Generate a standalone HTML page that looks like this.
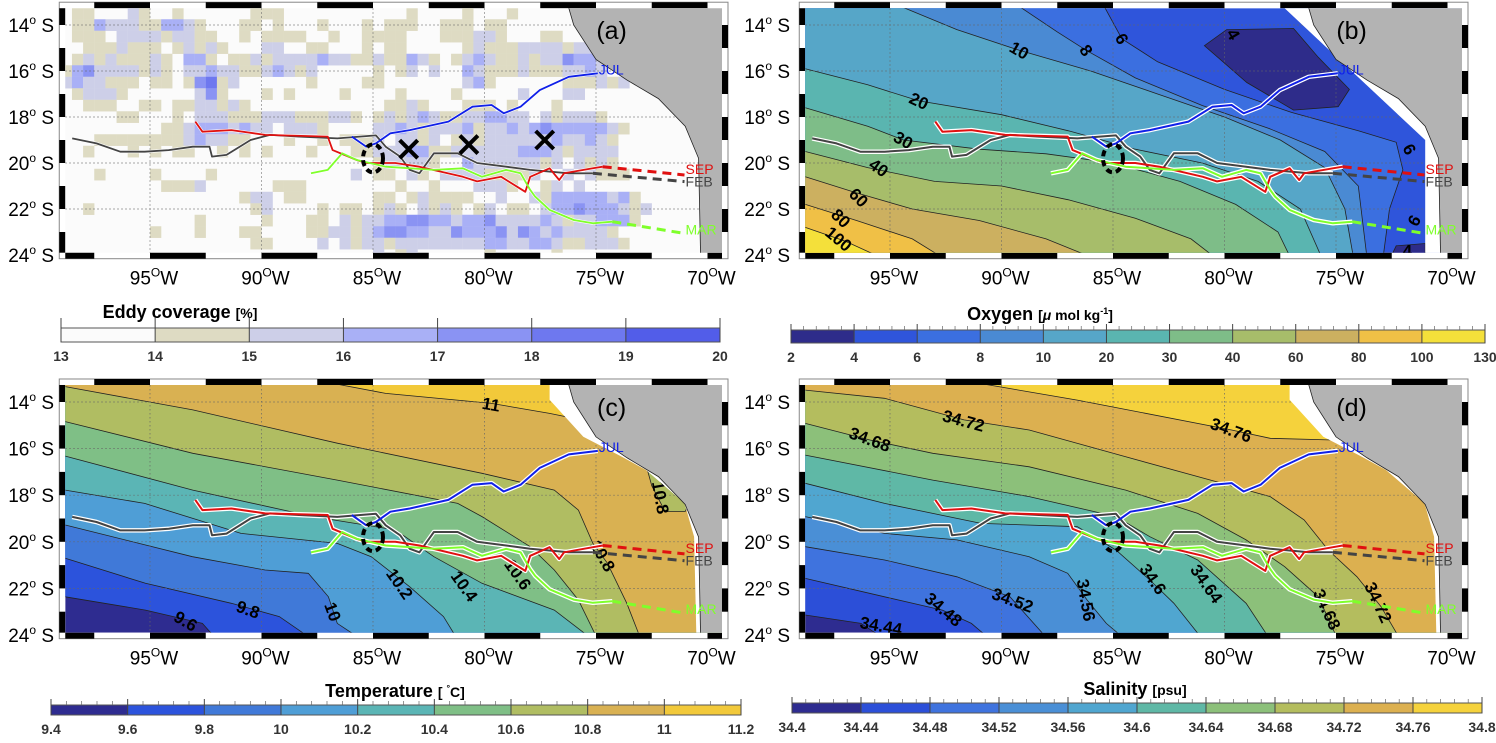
<!DOCTYPE html>
<html><head><meta charset="utf-8">
<style>
html,body{margin:0;padding:0;background:#fff;}
svg{display:block;font-family:"Liberation Sans",sans-serif;}
</style></head>
<body>
<svg id="fig" width="1496" height="743" viewBox="0 0 1496 743" xmlns="http://www.w3.org/2000/svg"></svg>
<script>
// ---------- data ----------
const eddyRows = [
"011000210010000001110000000000010000100010000000000000000000",
"011322211332100011010001000101110011101100000000000000000000",
"011102222122110010111100100111100011122100011000000000000000",
"001112111012121000220011000101100000121112222122100000000000",
"012121112103310112122223221121132101232112122433220000000000",
"134222212102232211232120000010120200321112111223200000000000",
"232211101101451200000010000110000000231000000111212000000000",
"012221000000241000101000010000100001000002000220000000000000",
"001110011011221210000000000001121000111010001000000000000000",
"000001100010222111222111221012123211223322021222100000000000",
"000000000112333232202221000022321222312232343333321000000000",
"000111111112322110001001011120221201212222223223210000000000",
"001000101011001010100010001122233112222223332122220000000000",
"000000000000000000000000000012222100322222212021210000000000",
"000100001000010000000000002011021022221111200202111000000000",
"000000000111200000011100000000100100022210012020000000000000",
"000000000000000012201100000011012111100200213333323100000000",
"001000000000000001200001011012102121012011023343332120000000",
"000000000000100000100011021223344332334222232122333100000000",
"000000001000100011000011221234433224333424323222210000000000",
"000000000000000001100002021221222222223322332112221000000000",
"000000000000000000000000000020120000001000001000000000000000"];
const eddyTicks = [13,14,15,16,17,18,19,20];
const eddyX = [[-83.4,-19.4],[-80.7,-19.2],[-77.3,-19.0]];

const oxyTicks = ["2","4","6","8","10","20","30","40","60","80","100","130"];
const oxyLevels = [6,8,10,20,30,40,60,80,100];
const oxyC6  = [[-85.5,-13.0],[-84.6,-14.6],[-83,-15.6],[-80,-16.8],[-77,-17.8],[-74,-18.6],[-72.3,-19.1],[-72.0,-20.3],[-72.6,-22],[-72.9,-24.2]];
const oxyC8  = [[-89.5,-13.0],[-87.5,-14.3],[-86.2,-15.1],[-84,-16.3],[-81,-17.5],[-78,-18.5],[-75.5,-19.5],[-74,-21],[-73.6,-24.2]];
const oxyC10 = [[-95,-13.0],[-92,-14.2],[-89.2,-15.1],[-86,-16.0],[-83,-17.0],[-80,-18.0],[-77.5,-19.0],[-75.5,-20.2],[-74.6,-22],[-74.2,-24.2]];
const oxyC20 = [[-98.8,-15.9],[-96,-16.6],[-93.7,-17.3],[-90,-17.9],[-87,-18.6],[-84,-19.4],[-81,-20.0],[-78.5,-20.8],[-76.6,-22],[-75.6,-24.2]];
const oxyC30 = [[-98.8,-17.6],[-96,-18.4],[-94.4,-19.0],[-91,-19.4],[-88,-19.6],[-85,-20.0],[-82,-20.8],[-79.5,-21.8],[-77.6,-23],[-77.0,-24.2]];
const oxyC40 = [[-98.8,-19.5],[-96,-20.2],[-93,-20.8],[-90,-21.0],[-87,-21.6],[-84,-22.4],[-81.5,-23.3],[-80.3,-24.2]];
const oxyC60 = [[-98.8,-20.6],[-96.5,-21.3],[-94,-22.0],[-91,-22.5],[-88,-23.3],[-85.7,-24.2]];
const oxyC80 = [[-98.8,-21.8],[-96.5,-22.5],[-94,-23.3],[-92.5,-24.2]];
const oxyC100= [[-98.8,-22.8],[-97,-23.4],[-95.2,-24.2]];
const oxyLow4a = [[-80.9,-14.9],[-79.9,-14.2],[-76.9,-14.15],[-75.8,-15.4],[-74.4,-16.8],[-74.9,-17.55],[-76.9,-17.7],[-79.0,-16.5]];
const oxyLow4b = [[-72.6,-24.2],[-72.3,-23.6],[-71.0,-23.5],[-71.0,-24.2]];

const tempTicks = ["9.4","9.6","9.8","10","10.2","10.4","10.6","10.8","11","11.2"];
const tC96  = [[-98.8,-22.36],[-95.2,-22.93],[-92.65,-23.5],[-92.0,-24.2]];
const tC98  = [[-98.8,-20.71],[-95.2,-21.78],[-91.35,-22.64],[-89.2,-23.21],[-87.7,-24.2]];
const tC100 = [[-98.8,-19.28],[-93.1,-20.64],[-89.84,-21.21],[-87.9,-21.35],[-87.0,-22.36],[-86.6,-23.5],[-85.5,-24.2]];
const tC102 = [[-98.8,-17.78],[-95.24,-18.35],[-90.92,-19.64],[-86.6,-20.07],[-85.08,-20.64],[-83.35,-21.93],[-81.84,-23.21],[-81.2,-24.2]];
const tC104 = [[-98.8,-16.32],[-93.08,-17.78],[-87.68,-18.92],[-84.0,-19.49],[-82.27,-20.64],[-80.11,-21.78],[-76.87,-22.93],[-75.14,-24.2]];
const tC106 = [[-98.8,-14.84],[-93.08,-16.2],[-86.6,-17.35],[-81.2,-18.35],[-80.11,-18.92],[-77.95,-20.21],[-76.87,-21.21],[-75.79,-22.5],[-74.92,-24.2]];
const tC108 = [[-98.8,-13.34],[-93.08,-14.34],[-86.6,-15.77],[-80.11,-17.06],[-76.87,-17.78],[-75.79,-18.64],[-75.14,-20.07],[-74.49,-20.92],[-73.62,-22.64],[-72.98,-24.2]];
const tC110 = [[-87.9,-13.0],[-84.43,-13.63],[-79.68,-14.06],[-77.08,-14.49],[-75.5,-14.8]];
const tPatch108 = [[-72.7,-16.9],[-72.1,-16.9],[-70.8,-18.3],[-71.0,-18.7],[-71.9,-18.7],[-72.5,-17.6]];

const salTicks = ["34.4","34.44","34.48","34.52","34.56","34.6","34.64","34.68","34.72","34.76","34.8"];
const sC44 = [[-98.8,-23.14],[-96.3,-23.5],[-95.2,-24.2]];
const sC48 = [[-98.8,-21.57],[-95.24,-22.36],[-92.65,-22.93],[-91.35,-23.5],[-90.49,-24.2]];
const sC52 = [[-98.8,-20.21],[-95.24,-20.78],[-92.0,-21.5],[-89.62,-22.36],[-87.9,-24.2]];
const sC56 = [[-98.8,-18.92],[-95.24,-19.64],[-92.0,-19.92],[-88.76,-20.64],[-87.03,-21.35],[-86.16,-22.5],[-85.3,-23.5],[-84.43,-24.2]];
const sC60 = [[-98.8,-17.49],[-95.24,-18.35],[-90.92,-19.21],[-86.6,-19.35],[-84.87,-20.35],[-83.35,-21.64],[-82.27,-22.64],[-80.97,-24.2]];
const sC64 = [[-98.8,-16.28],[-93.08,-17.35],[-88.76,-18.06],[-84.87,-18.92],[-83.35,-19.78],[-81.2,-20.78],[-79.03,-22.64],[-77.95,-24.2]];
const sC68 = [[-98.8,-14.92],[-95.9,-15.63],[-93.08,-16.2],[-88.76,-16.78],[-84.43,-17.78],[-81.2,-18.78],[-79.03,-19.92],[-77.3,-21.07],[-75.79,-22.36],[-74.92,-24.2]];
const sC72 = [[-98.8,-13.49],[-95.24,-13.84],[-91.68,-14.77],[-88.76,-15.2],[-84.43,-16.35],[-80.11,-17.49],[-77.95,-18.06],[-76.43,-19.06],[-75.35,-20.35],[-74.06,-21.5],[-72.98,-22.78],[-72.11,-24.2]];
const sC76 = [[-92.2,-13.0],[-86.6,-13.92],[-79.68,-15.2],[-77.95,-15.56],[-75.14,-15.63],[-74.5,-15.6]];

const trackFEB = [[-98.49,-18.93],[-97.4,-19.15],[-96.33,-19.51],[-95.24,-19.51],[-94.16,-19.44],[-93.08,-19.29],[-92.33,-19.29],[-92.22,-19.72],[-91.57,-19.65],[-90.49,-19.0],[-89.62,-18.78],[-88.32,-18.85],[-86.6,-18.93],[-84.87,-18.8],[-84.43,-19.29],[-83.78,-19.72],[-83.35,-20.3],[-82.92,-20.45],[-82.27,-19.58],[-81.2,-19.58],[-80.33,-20.0],[-79.03,-20.16],[-77.95,-20.3],[-76.22,-20.45],[-75.14,-20.45]];
const trackSEP = [[-92.97,-18.2],[-92.65,-18.64],[-91.35,-18.57],[-89.84,-18.78],[-87.03,-18.85],[-86.81,-19.44],[-85.73,-19.87],[-85.3,-20.0],[-84.0,-20.0],[-82.92,-20.16],[-80.97,-20.6],[-80.33,-20.8],[-79.25,-20.6],[-78.17,-21.25],[-77.95,-20.6],[-77.08,-20.23],[-76.65,-20.74],[-76.43,-20.45],[-75.14,-20.23],[-74.7,-20.16]];
const trackJUL = [[-85.95,-18.85],[-85.3,-19.29],[-84.87,-19.15],[-84.22,-18.71],[-83.35,-18.57],[-81.62,-18.2],[-80.54,-17.55],[-79.68,-17.48],[-79.14,-17.84],[-78.38,-17.55],[-77.52,-16.83],[-76.22,-16.25],[-74.92,-16.1]];
const trackMAR = [[-87.78,-20.45],[-87.03,-20.3],[-86.38,-19.58],[-85.73,-19.87],[-84.43,-20.16],[-82.27,-20.3],[-80.97,-20.23],[-80.11,-20.6],[-79.03,-20.3],[-78.38,-20.45],[-77.95,-21.17],[-77.73,-21.46],[-77.08,-22.04],[-76.0,-22.48],[-75.14,-22.62],[-74.27,-22.55]];
const dashFEB = [[-75.14,-20.45],[-71.03,-20.81]];
const dashSEP = [[-74.7,-20.16],[-71.03,-20.52]];
const dashMAR = [[-74.27,-22.55],[-71.03,-23.06]];
const eddyCenter = [-85.0,-19.8];

const landPoly = [[-76.3,-13],[-76.0,-14.0],[-75.0,-15.5],[-73.6,-16.4],[-72.2,-17.2],[-71.0,-18.4],[-70.4,-19.8],[-70.3,-24.5],[-68,-24.5],[-68,-13]];
const maskB = [[-77.6,-13],[-71.0,-19.0],[-71.0,-24.5],[-68,-24.5],[-68,-13]];
const maskCD = [[-77.08,-13],[-77.08,-13.9],[-75.57,-15.49],[-73.84,-16.35],[-72.76,-16.92],[-71.03,-18.34],[-70.6,-19.78],[-70.49,-24.5],[-68,-24.5],[-68,-13]];

// ---------- helpers ----------
const NS="http://www.w3.org/2000/svg";
const svg=document.getElementById('fig');
function el(tag,attrs,parent){const e=document.createElementNS(NS,tag);for(const k in attrs)e.setAttribute(k,attrs[k]);(parent||svg).appendChild(e);return e;}
const L=-98.8,R=-69.35,T=-13.27,B=-23.9;
const panels={
 a:{x0:150,y0:25,sy:23},
 b:{x0:890,y0:25,sy:23},
 c:{x0:150,y0:402,sy:23.3},
 d:{x0:890,y0:402,sy:23.3}};
function px(p,lon){return p.x0+(lon+95)*22.3;}
function py(p,lat){return p.y0+(-14-lat)*p.sy;}
function pts(p,arr){return arr.map(q=>px(p,q[0]).toFixed(1)+','+py(p,q[1]).toFixed(1)).join(' ');}
function closeUR(a){const f=a[0],l=a[a.length-1];const c=[];if(l[1]<=-23.9)c.push([-68,-24.5]);c.push([-68,-13]);if(f[1]>=-13.3)c.push([f[0],-13]);else{c.push([-99.5,-13]);c.push([-99.5,f[1]]);}return a.concat(c);}
function closeLL(a){const f=a[0],l=a[a.length-1];const c=[];if(l[1]<=-23.9)c.push([-99.5,-24.5]);if(f[0]<=-98.7)c.push([-99.5,f[1]]);else{c.push([-99.5,-13]);c.push([f[0],-13]);}return a.concat(c);}

const defs=el('defs',{});
function makeClip(id,p){const cp=el('clipPath',{id:id},defs);el('rect',{x:px(p,L),y:py(p,T),width:px(p,R)-px(p,L),height:py(p,B)-py(p,T)},cp);}
for(const k in panels)makeClip('clip-'+k,panels[k]);

function frame(p,g){
 const x1=px(p,L),x2=px(p,R),y1=py(p,T),y2=py(p,B),w=6;
 const fr=el('g',{},g);
 
 el('rect',{x:x1-w,y:y1-w,width:x2-x1+2*w,height:y2-y1+2*w,fill:'#fff',stroke:'#888','stroke-width':1},fr);
 for(let s=-100;s<-68;s+=2.5){
  const k=Math.round((s+100)/2.5);
  const a=Math.max(s,L),b=Math.min(s+2.5,R);if(b<=a)continue;
  const topBlack=(k%2==1), botBlack=(k%2==0);
  if(topBlack)el('rect',{x:px(p,a),y:y1-w,width:px(p,b)-px(p,a),height:w,fill:'#000'},fr);
  if(botBlack)el('rect',{x:px(p,a),y:y2,width:px(p,b)-px(p,a),height:w,fill:'#000'},fr);
 }
 for(let s=-13;s>-25;s-=1){
  const k=Math.round(-13-s);
  const a=Math.min(s,T),b=Math.max(s-1,B);if(a<=b)continue;
  if(k%2==0)el('rect',{x:x1-w,y:py(p,a),width:w,height:py(p,b)-py(p,a),fill:'#000'},fr);
  else el('rect',{x:x2,y:py(p,a),width:w,height:py(p,b)-py(p,a),fill:'#000'},fr);
 }
}
function axes(p,g){
 for(let lat=-14;lat>=-24;lat-=2){
  const t=el('text',{x:p.x0-96+ (p.x0>500?-4:0),y:py(p,lat)+7,'font-size':19,'text-anchor':'end',fill:'#000'},g);
  
  t.innerHTML=(-lat)+'<tspan dy="-8" font-size="12">o</tspan><tspan dy="8"> S</tspan>';
 }
 for(let lon=-95;lon<=-70;lon+=5){
  const t=el('text',{x:px(p,lon)+4,y:py(p,B)+32,'font-size':19,'text-anchor':'middle',fill:'#000'},g);
  
  t.innerHTML=(-lon)+'<tspan dy="-8" font-size="12">O</tspan><tspan dy="8">W</tspan>';
 }
}
function grid(p,g){
 for(let lat=-14;lat>=-24;lat-=2)el('line',{x1:px(p,L),x2:px(p,R),y1:py(p,lat),y2:py(p,lat),stroke:'#666','stroke-width':0.7,'stroke-dasharray':'1.5,2.5'},g);
 for(let lon=-95;lon<=-70;lon+=5)el('line',{x1:px(p,lon),x2:px(p,lon),y1:py(p,T),y2:py(p,B),stroke:'#666','stroke-width':0.7,'stroke-dasharray':'1.5,2.5'},g);
}
function line(p,g,arr,attrs){return el('polyline',Object.assign({points:pts(p,arr),fill:'none'},attrs),g);}
function tracks(p,g,halo){
 const tg=el('g',{},g);
 
 const list=[[trackFEB,'#444'],[trackSEP,'#e01010'],[trackMAR,'#7fff2a'],[trackJUL,'#1020e8']];
 for(const [t,c] of list){
  el('polyline',{points:pts(p,t),fill:'none',stroke:'#fff','stroke-width':halo?4.5:3,'stroke-linejoin':'round'},tg);
 }
 for(const [t,c] of list){
  const pl=el('polyline',{points:pts(p,t),fill:'none',stroke:c,'stroke-width':halo?2:1.8,'stroke-linejoin':'round'},tg);
  
 }
 line(p,tg,dashSEP,{stroke:'#e01010','stroke-width':3,'stroke-dasharray':'9,6'});
 line(p,tg,dashFEB,{stroke:'#444','stroke-width':3,'stroke-dasharray':'9,6'});
 line(p,tg,dashMAR,{stroke:'#7fff2a','stroke-width':3,'stroke-dasharray':'9,6'});
 const e=el('ellipse',{cx:px(p,eddyCenter[0]),cy:py(p,eddyCenter[1]),rx:10,ry:14,fill:'none',stroke:'#000','stroke-width':4,'stroke-dasharray':'6,4'},tg);
 
 const labs=[['JUL',trackJUL[trackJUL.length-1],'#1020e8',0],['SEP',dashSEP[1],'#e01010',-2],['FEB',dashFEB[1],'#444',4],['MAR',dashMAR[1],'#7fff2a',0]];
 for(const [s,q,c,dy] of labs){
  const t=el('text',{x:px(p,q[0])+1,y:py(p,q[1])+dy+1,'font-size':14,fill:c},tg);
  t.textContent=s;
 }
}
function landAndMask(p,g,mask){
 if(mask)el('polygon',{points:pts(p,mask),fill:'#fff'},g);
 const l=el('polygon',{points:pts(p,landPoly),fill:'#b3b3b3',stroke:'#222','stroke-width':0.8},g);
 
}
function panelLetter(p,s){
 const t=el('text',{x:px(p,-74.3),y:py(p,-14.6),'font-size':25,'text-anchor':'middle',fill:'#000'});
 t.textContent=s;
}
function clabels(p,g,arr){
 for(const [s,lon,lat,rot] of arr){
  const x=px(p,lon),y=py(p,lat);
  const t=el('text',{x:x,y:y+6,'font-size':17,'font-weight':'bold','text-anchor':'middle',fill:'#000',transform:`rotate(${rot},${x},${y})`},g);
  t.textContent=s;
 }
}
function colorbar(x1,x2,y1,y2,colors,ticks,title,unit,tickAbove,tx,ty,name){
 const g=el('g',{});
 const n=colors.length,w=(x2-x1)/n;
 colors.forEach((c,i)=>{el('rect',{x:x1+i*w,y:y1,width:w,height:y2-y1,fill:c},g);});
 el('rect',{x:x1,y:y1,width:x2-x1,height:y2-y1,fill:'none',stroke:'#555','stroke-width':1},g);
 for(let i=0;i<=n;i++){
  el('line',{x1:x1+i*w,x2:x1+i*w,y1:y1-(tickAbove?6:10),y2:y2,stroke:'#444','stroke-width':1},g);
  if(tickAbove)for(let j=1;j<5;j++)if(i<n)el('line',{x1:x1+i*w+j*w/5,x2:x1+i*w+j*w/5,y1:y1-4,y2:y1,stroke:'#666','stroke-width':0.7},g);
  const t=el('text',{x:x1+i*w,y:y2+19,'font-size':14,'font-weight':'bold','text-anchor':'middle',fill:'#333'},g);
  t.textContent=ticks[i];
 }
 const tt=el('text',{x:tx,y:ty,'font-size':18,'font-weight':'bold','text-anchor':'middle',fill:'#000'},g);
 
 tt.innerHTML=title+' <tspan font-size="14">'+unit+'</tspan>';
}

// ---------- panel (a) ----------
(function(){
 const p=panels.a;
 const g=el('g',{});
 frame(p,g);
 const inner=el('g',{'clip-path':'url(#clip-a)'},g);
 el('rect',{x:px(p,L),y:py(p,T),width:px(p,R)-px(p,L),height:py(p,B)-py(p,T),fill:'#fbfbfb'},inner);
 const cols=['#fbfbfb','#dedbc3','#cdcfe8','#a9b0f6','#8a93f3','#6e78ef','#525de9'];
 eddyRows.forEach((row,r)=>{
  for(let c=0;c<row.length;c++){
   const v=+row[c];if(!v)continue;
   const lon=-99+0.5*c,lat=-13.25-0.5*r;
   const x=px(p,lon),y=py(p,lat);
   const cell=el('rect',{x:x,y:y,width:11.3,height:11.7,fill:cols[v]},inner);
   
  }
 });
 grid(p,inner);
 landAndMask(p,inner,null);
 tracks(p,inner,false);
 eddyX.forEach(q=>{
  const x=px(p,q[0]),y=py(p,q[1]);
  const m=el('path',{d:`M${x-9},${y-9}L${x+9},${y+9}M${x+9},${y-9}L${x-9},${y+9}`,stroke:'#000','stroke-width':4},inner);
  
 });
 axes(p,g);
 panelLetter(p,'(a)');
 colorbar(61,720,328,342,cols,eddyTicks,'Eddy coverage','[%]',false,180,318,'eddy-colorbar');
})();

// ---------- panel (b) ----------
(function(){
 const p=panels.b;
 const g=el('g',{});
 frame(p,g);
 const inner=el('g',{'clip-path':'url(#clip-b)'},g);
 const cols=['#2e2c8a','#2f55db','#3b6fe0','#4a8ad3','#56a6c8','#5ab5b0','#7ebd88','#a7bd6a','#ccb060','#f0c046','#f4e03a'];
 el('rect',{x:px(p,L),y:py(p,T),width:px(p,R)-px(p,L),height:py(p,B)-py(p,T),fill:cols[1]},inner);
 const cs=[oxyC6,oxyC8,oxyC10,oxyC20,oxyC30,oxyC40,oxyC60,oxyC80,oxyC100];
 cs.forEach((c,i)=>{const f=el('polygon',{points:pts(p,closeLL(c)),fill:cols[i+2]},inner);});
 [oxyLow4a,oxyLow4b].forEach(c=>{el('polygon',{points:pts(p,c),fill:cols[0],stroke:'#222','stroke-width':0.8},inner);});
 cs.forEach(c=>line(p,inner,c,{stroke:'#222','stroke-width':0.8}));
 grid(p,inner);
 clabels(p,inner,[['4',-79.6,-14.4,60],['6',-84.6,-14.6,60],['8',-86.2,-15.1,55],['10',-89.2,-15.1,30],['20',-93.7,-17.3,25],['30',-94.4,-19.0,30],['40',-95.5,-20.2,35],['60',-96.4,-21.5,45],['80',-97.2,-22.4,45],['100',-97.3,-23.3,40],['6',-71.7,-19.4,60],['6',-71.5,-22.5,-60],['4',-71.8,-23.8,0]]);
 landAndMask(p,inner,maskB);
 tracks(p,inner,true);
 axes(p,g);
 panelLetter(p,'(b)');
 colorbar(791,1485,330,343,cols,oxyTicks,'Oxygen','[<tspan font-style="italic">μ</tspan> mol kg<tspan dy="-6" font-size="9">-1</tspan><tspan dy="6">]</tspan>',true,1040,320,'oxygen-colorbar');
})();

// ---------- panel (c) ----------
(function(){
 const p=panels.c;
 const g=el('g',{});
 frame(p,g);
 const inner=el('g',{'clip-path':'url(#clip-c)'},g);
 const cols=['#2e2c90','#2c53dc','#4079d8','#4f9ed6','#5bb5b5','#7fbf86','#b0bd62','#d9b152','#f2c93a'];
 el('rect',{x:px(p,L),y:py(p,T),width:px(p,R)-px(p,L),height:py(p,B)-py(p,T),fill:cols[0]},inner);
 const cs=[tC96,tC98,tC100,tC102,tC104,tC106,tC108,tC110];
 cs.forEach((c,i)=>{const f=el('polygon',{points:pts(p,closeUR(c)),fill:cols[i+1]},inner);});
 el('polygon',{points:pts(p,tPatch108),fill:cols[6],stroke:'#222','stroke-width':0.8},inner);
 cs.forEach(c=>line(p,inner,c,{stroke:'#222','stroke-width':0.8}));
 grid(p,inner);
 clabels(p,inner,[['11',-79.7,-14.1,10],['10.8',-72.1,-18.1,80],['10.8',-74.7,-20.6,60],['10.6',-78.5,-21.4,55],['10.4',-80.9,-21.9,55],['10.2',-83.8,-21.8,55],['10',-86.8,-23.0,70],['9.8',-90.6,-22.9,20],['9.6',-93.4,-23.4,30]]);
 landAndMask(p,inner,maskCD);
 tracks(p,inner,true);
 axes(p,g);
 panelLetter(p,'(c)');
 colorbar(51,741,705,715,cols,tempTicks,'Temperature','[ <tspan dy="-6" font-size="9">°</tspan><tspan dy="6">C]</tspan>',true,395,697,'temperature-colorbar');
})();

// ---------- panel (d) ----------
(function(){
 const p=panels.d;
 const g=el('g',{});
 frame(p,g);
 const inner=el('g',{'clip-path':'url(#clip-d)'},g);
 const cols=['#2e2c90','#2c4fd8','#3f73de','#4a8fd6','#50a6d0','#5fb8a6','#8cc07a','#b4bd5e','#dcb050','#f5d23c'];
 el('rect',{x:px(p,L),y:py(p,T),width:px(p,R)-px(p,L),height:py(p,B)-py(p,T),fill:cols[0]},inner);
 const cs=[sC44,sC48,sC52,sC56,sC60,sC64,sC68,sC72,sC76];
 cs.forEach((c,i)=>{const f=el('polygon',{points:pts(p,closeUR(c)),fill:cols[i+1]},inner);});
 cs.forEach(c=>line(p,inner,c,{stroke:'#222','stroke-width':0.8}));
 grid(p,inner);
 clabels(p,inner,[['34.72',-91.7,-14.8,15],['34.76',-79.7,-15.2,20],['34.68',-95.9,-15.6,20],['34.52',-89.5,-22.5,20],['34.48',-92.6,-22.9,40],['34.44',-95.4,-23.6,10],['34.56',-86.2,-22.5,80],['34.6',-83.2,-21.6,55],['34.64',-80.8,-21.8,55],['34.68',-75.4,-22.9,65],['34.72',-73.1,-22.6,65]]);
 landAndMask(p,inner,maskCD);
 tracks(p,inner,true);
 axes(p,g);
 panelLetter(p,'(d)');
 colorbar(792,1482,703,713,cols,salTicks,'Salinity','[psu]',true,1135,695,'salinity-colorbar');
})();
</script>
</body></html>
